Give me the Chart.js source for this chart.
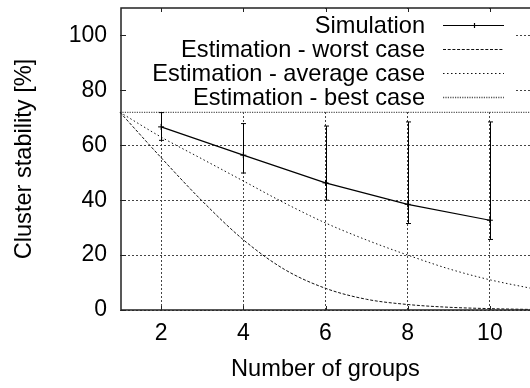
<!DOCTYPE html>
<html>
<head>
<meta charset="utf-8">
<script src="https://cdn.jsdelivr.net/npm/chart.js@4/dist/chart.umd.min.js"></script>
<style>
  html, body { margin: 0; padding: 0; background: #fff; overflow: hidden; width: 530px; height: 388px; }
  #wrap { position: absolute; left: 0; top: 0; width: 536px; height: 388px; }
</style>
</head>
<body>
<div id="wrap"><canvas id="c" width="536" height="388"></canvas></div>
<script>
// Number of groups on the x axis
const groups = [1, 2, 3, 4, 5, 6, 7, 8, 9, 10, 11];

// Simulated stability with its spread (min / max of the runs)
const simGroups = [2, 4, 6, 8, 10];
const simMean   = [66.7, 56.4, 46.3, 38.5, 32.7];
const simLow    = [61.8, 49.9, 40.0, 31.5, 25.7];
const simHigh   = [71.9, 67.9, 67.0, 68.5, 68.5];

// Analytical estimations
const worstCase   = [72, 55.5, 39.7, 25.6, 14.8, 7.9, 3.9, 2.0, 1.0, 0.5, 0.2];
const averageCase = [72, 63.0, 55.0, 47.0, 39.0, 31.7, 25.5, 20.0, 15.0, 11.0, 7.9];
const bestCase    = [72, 72, 72, 72, 72, 72, 72, 72, 72, 72, 72];

const seriesNames = ['Simulation', 'Estimation - worst case', 'Estimation - average case', 'Estimation - best case'];
const xTicks = [2, 4, 6, 8, 10];
const yTicks = [0, 20, 40, 60, 80, 100];

const FONT_FAMILY = "'Liberation Sans', Arial, Helvetica, sans-serif";
const FONT_SIZE = 23;
const TEXT_SIZE = 23.6;

const pts = (xs, ys) => xs.map((x, i) => ({ x: x, y: ys[i] }));

// Line looks used both on the plot and in the key
const looks = [
  { color: '#000', width: 1.2, dash: [] },
  { color: '#111', width: 1, dash: [3, 1.7] },
  { color: '#111', width: 1, dash: [1.5, 2.5] },
  { color: '#555', width: 1.3, dash: [1.2, 1.2] }
];

// White key box, drawn over the grid before the curves
const keyBackground = {
  id: 'keyBackground',
  beforeDatasetsDraw(chart) {
    const { ctx, chartArea } = chart;
    ctx.save();
    ctx.fillStyle = '#fff';
    ctx.fillRect(chartArea.left + 1, chartArea.top + 1, 516 - chartArea.left - 1, 103);
    ctx.restore();
  }
};

// Min/max bars for the simulated points
const errorBars = {
  id: 'errorBars',
  afterDatasetsDraw(chart) {
    const { ctx } = chart;
    const xs = chart.scales.x, ys = chart.scales.y;
    ctx.save();
    ctx.strokeStyle = '#000';
    ctx.lineWidth = 1;
    simGroups.forEach((g, i) => {
      const px = Math.round(xs.getPixelForValue(g)) + 0.5;
      const lo = ys.getPixelForValue(simLow[i]);
      const hi = ys.getPixelForValue(simHigh[i]);
      ctx.beginPath();
      ctx.moveTo(px, lo); ctx.lineTo(px, hi);
      ctx.moveTo(px - 2.5, lo); ctx.lineTo(px + 2.5, lo);
      ctx.moveTo(px - 2.5, hi); ctx.lineTo(px + 2.5, hi);
      ctx.stroke();
    });
    ctx.restore();
  }
};

// Frame, inward tick marks and the key
const frameAndKey = {
  id: 'frameAndKey',
  afterDraw(chart) {
    const { ctx, chartArea } = chart;
    const xs = chart.scales.x, ys = chart.scales.y;
    const L = chartArea.left + 1, T = chartArea.top, B = chartArea.bottom, R = chart.width;
    ctx.save();
    ctx.strokeStyle = '#222';
    ctx.lineWidth = 1.5;
    ctx.setLineDash([]);
    ctx.beginPath();
    ctx.moveTo(R, T); ctx.lineTo(L, T); ctx.lineTo(L, B); ctx.lineTo(R, B);
    ctx.stroke();

    ctx.lineWidth = 1;
    ctx.beginPath();
    yTicks.forEach(v => {
      const py = Math.round(ys.getPixelForValue(v)) + 0.5;
      ctx.moveTo(L, py); ctx.lineTo(L + 5, py);
    });
    xTicks.forEach(v => {
      const px = Math.round(xs.getPixelForValue(v)) + 0.5;
      ctx.moveTo(px, T); ctx.lineTo(px, T + 4);
      ctx.moveTo(px, B); ctx.lineTo(px, B - 4);
    });
    ctx.stroke();

    // key
    ctx.font = TEXT_SIZE + 'px ' + FONT_FAMILY;
    ctx.fillStyle = '#000';
    ctx.textAlign = 'right';
    ctx.textBaseline = 'middle';
    const rowY = [26, 50, 74, 98];
    const sx0 = 443, sx1 = 504;
    seriesNames.forEach((name, i) => {
      ctx.fillText(name, 425, rowY[i]);
      const lk = looks[i];
      const ly = Math.round(rowY[i] - 1.5) + 0.5;
      ctx.strokeStyle = lk.color;
      ctx.lineWidth = lk.width;
      ctx.setLineDash(lk.dash);
      ctx.beginPath();
      ctx.moveTo(sx0, ly); ctx.lineTo(sx1, ly);
      ctx.stroke();
      ctx.setLineDash([]);
      if (i === 0) {
        const mx = Math.round((sx0 + sx1) / 2) + 0.5;
        ctx.beginPath();
        ctx.moveTo(mx, ly - 2.5); ctx.lineTo(mx, ly + 2.5);
        ctx.stroke();
      }
    });
    ctx.restore();
  }
};

Chart.defaults.font.family = FONT_FAMILY;
Chart.defaults.font.size = FONT_SIZE;
Chart.defaults.color = '#000';

new Chart(document.getElementById('c'), {
  type: 'line',
  data: {
    datasets: [
      {
        label: seriesNames[0],
        data: pts(simGroups, simMean),
        borderColor: looks[0].color, borderWidth: looks[0].width,
        pointStyle: 'cross', pointRadius: 3, pointBorderWidth: 1,
        pointBorderColor: '#000', tension: 0
      },
      {
        label: seriesNames[1],
        data: pts(groups, worstCase),
        borderColor: looks[1].color, borderWidth: looks[1].width, borderDash: looks[1].dash,
        pointRadius: 0, cubicInterpolationMode: 'monotone'
      },
      {
        label: seriesNames[2],
        data: pts(groups, averageCase),
        borderColor: looks[2].color, borderWidth: looks[2].width, borderDash: looks[2].dash,
        pointRadius: 0, cubicInterpolationMode: 'monotone'
      },
      {
        label: seriesNames[3],
        data: pts(groups, bestCase),
        borderColor: looks[3].color, borderWidth: looks[3].width, borderDash: looks[3].dash,
        pointRadius: 0
      }
    ]
  },
  options: {
    responsive: false,
    animation: false,
    devicePixelRatio: 1,
    clip: false,
    layout: { padding: { top: 8, right: 3, bottom: 0, left: 0 } },
    plugins: { legend: { display: false }, tooltip: { enabled: false } },
    scales: {
      x: {
        type: 'linear', min: 1, max: 11,
        afterBuildTicks: s => { s.ticks = xTicks.map(v => ({ value: v })); },
        afterFit: s => { s.height = 78; s.paddingLeft = 0; s.paddingRight = 0; },
        grid: { color: '#444', lineWidth: 1, drawTicks: false },
        border: { display: false, dash: [2, 2] },
        ticks: { padding: 10, color: '#000', font: { size: FONT_SIZE } },
        title: { display: true, text: 'Number of groups', color: '#000', font: { size: TEXT_SIZE }, padding: { top: 0, bottom: 4 } }
      },
      y: {
        type: 'linear', min: 0, max: 110,
        afterBuildTicks: s => { s.ticks = yTicks.map(v => ({ value: v })); },
        afterFit: s => { s.width = 120; s.paddingTop = 0; s.paddingBottom = 0; },
        grid: { color: '#444', lineWidth: 1, drawTicks: false },
        border: { display: false, dash: [2, 2] },
        ticks: { padding: 13, color: '#000', font: { size: FONT_SIZE } },
        title: { display: true, text: 'Cluster stability [%]', color: '#000', font: { size: TEXT_SIZE }, padding: { top: 10, bottom: 0 } }
      }
    }
  },
  plugins: [keyBackground, errorBars, frameAndKey]
});
</script>
</body>
</html>
